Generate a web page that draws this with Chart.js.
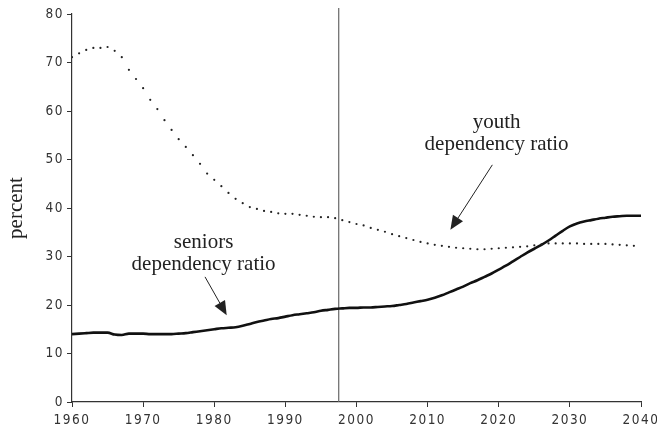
<!DOCTYPE html>
<html>
<head>
<meta charset="utf-8">
<script src="https://cdn.jsdelivr.net/npm/chart.js@4.4.1/dist/chart.umd.min.js"></script>
<style>
	html, body { margin: 0; padding: 0; background: #fff; }
	#wrap { width: 657px; height: 428px; }
</style>
</head>
<body>
<div id="wrap"><canvas id="myChart"></canvas></div>
<script>
"use strict";

// Years on the x axis
const years = [
	1960, 1961, 1962, 1963, 1964, 1965, 1966, 1967, 1968, 1969,
	1970, 1971, 1972, 1973, 1974, 1975, 1976, 1977, 1978, 1979,
	1980, 1981, 1982, 1983, 1984, 1985, 1986, 1987, 1988, 1989,
	1990, 1991, 1992, 1993, 1994, 1995, 1996, 1997, 1998, 1999,
	2000, 2001, 2002, 2003, 2004, 2005, 2006, 2007, 2008, 2009,
	2010, 2011, 2012, 2013, 2014, 2015, 2016, 2017, 2018, 2019,
	2020, 2021, 2022, 2023, 2024, 2025, 2026, 2027, 2028, 2029,
	2030, 2031, 2032, 2033, 2034, 2035, 2036, 2037, 2038, 2039,
	2040,
];

// Youth dependency ratio (percent), 1960-2039
const youthRatio = [
	71.1, 71.9, 72.6, 73.0, 73.0, 73.2, 72.4, 71.1, 68.5, 66.6,
	64.7, 62.3, 60.4, 58.1, 56.1, 54.2, 52.6, 50.9, 49.1, 47.1,
	45.8, 44.5, 43.1, 41.9, 41.0, 40.2, 39.8, 39.4, 39.2, 38.9,
	38.8, 38.8, 38.6, 38.4, 38.2, 38.1, 38.1, 37.9, 37.5, 37.1,
	36.7, 36.4, 35.9, 35.5, 35.1, 34.6, 34.2, 33.8, 33.4, 33.0,
	32.7, 32.4, 32.2, 32.0, 31.8, 31.7, 31.6, 31.5, 31.5, 31.6,
	31.7, 31.8, 31.9, 32.0, 32.1, 32.3, 32.5, 32.7, 32.7, 32.7,
	32.7, 32.7, 32.6, 32.6, 32.6, 32.6, 32.5, 32.4, 32.3, 32.2,
];

// Seniors dependency ratio (percent), 1960-2040
const seniorsRatio = [
	14.0, 14.1, 14.2, 14.3, 14.3, 14.3, 13.9, 13.8, 14.1, 14.1,
	14.1, 14.0, 14.0, 14.0, 14.0, 14.1, 14.2, 14.4, 14.6, 14.8,
	15.0, 15.2, 15.3, 15.4, 15.7, 16.1, 16.5, 16.8, 17.1, 17.3,
	17.6, 17.9, 18.1, 18.3, 18.5, 18.8, 19.0, 19.2, 19.3, 19.4,
	19.4, 19.5, 19.5, 19.6, 19.7, 19.8, 20.0, 20.2, 20.5, 20.8,
	21.1, 21.5, 22.0, 22.6, 23.2, 23.8, 24.5, 25.1, 25.8, 26.5,
	27.3, 28.1, 29.0, 29.9, 30.8, 31.6, 32.4, 33.3, 34.3, 35.3,
	36.2, 36.8, 37.2, 37.5, 37.8, 38.0, 38.2, 38.3, 38.4, 38.4,
	38.4,
];

// Year of the vertical divider line
const markerYear = 1997.5;

// Label texts and where they sit (year, percent of the first baseline)
const youthLabel = { lines: ["youth", "dependency ratio"], x: 2019.7, y: 56.5, arrowFrom: [2019.1, 48.9], arrowTo: [2013.2, 35.5] };
const seniorsLabel = { lines: ["seniors", "dependency ratio"], x: 1978.5, y: 31.8, arrowFrom: [1978.7, 25.8], arrowTo: [1981.75, 17.9] };
const yTitle = "percent";

const tickFont = { family: "'Liberation Sans Narrow', 'DejaVu Sans Condensed', sans-serif", size: 13.5 };
const serifFont = "21px 'Liberation Serif', 'DejaVu Serif', serif";

function toPoints(values) {
	const points = [];
	values.forEach(function (value, i) {
		points.push({ x: years[i], y: value });
	});
	return points;
}

function drawArrow(ctx, x1, y1, x2, y2) {
	const angle = Math.atan2(y2 - y1, x2 - x1);
	const headLen = 14;
	const headHalf = 6;
	const bx = x2 - headLen * Math.cos(angle);
	const by = y2 - headLen * Math.sin(angle);
	ctx.beginPath();
	ctx.moveTo(x1, y1);
	ctx.lineTo(bx, by);
	ctx.stroke();
	ctx.beginPath();
	ctx.moveTo(x2, y2);
	ctx.lineTo(bx + headHalf * Math.sin(angle), by - headHalf * Math.cos(angle));
	ctx.lineTo(bx - headHalf * Math.sin(angle), by + headHalf * Math.cos(angle));
	ctx.closePath();
	ctx.fill();
}

const annotations = {
	id: "annotations",
	beforeDraw(chart) {
		// spaced-out digits like the original tick labels
		chart.ctx.letterSpacing = "1.5px";
	},
	beforeDatasetsDraw(chart) {
		const ctx = chart.ctx;
		const x = chart.scales.x.getPixelForValue(markerYear);
		ctx.save();
		ctx.strokeStyle = "#666";
		ctx.lineWidth = 1.2;
		ctx.beginPath();
		ctx.moveTo(x, chart.chartArea.top - 6);
		ctx.lineTo(x, chart.chartArea.bottom);
		ctx.stroke();
		ctx.restore();
	},
	afterDraw(chart) {
		const ctx = chart.ctx;
		const xs = chart.scales.x;
		const ys = chart.scales.y;
		ctx.save();
		ctx.letterSpacing = "0px";
		ctx.font = serifFont;
		ctx.fillStyle = "#222";
		ctx.strokeStyle = "#222";
		ctx.lineWidth = 1;
		ctx.textAlign = "center";
		ctx.textBaseline = "alphabetic";
		[youthLabel, seniorsLabel].forEach(function (label) {
			const cx = xs.getPixelForValue(label.x);
			const cy = ys.getPixelForValue(label.y);
			label.lines.forEach(function (line, i) {
				ctx.fillText(line, cx, cy + i * 22);
			});
			drawArrow(ctx,
				xs.getPixelForValue(label.arrowFrom[0]), ys.getPixelForValue(label.arrowFrom[1]),
				xs.getPixelForValue(label.arrowTo[0]), ys.getPixelForValue(label.arrowTo[1]));
		});

		// y axis title
		ctx.translate(22, (chart.chartArea.top + chart.chartArea.bottom) / 2);
		ctx.rotate(-Math.PI / 2);
		ctx.fillText(yTitle, 0, 0);
		ctx.restore();
	},
};

function generateChart() {
	const ctx = document.getElementById("myChart");

	new Chart(ctx, {
		type: "line",
		data: {
			datasets: [
				{
					label: "youth dependency ratio",
					data: toPoints(youthRatio),
					showLine: false,
					pointRadius: 1.1,
					pointBorderWidth: 0,
					pointBackgroundColor: "#222",
				},
				{
					label: "seniors dependency ratio",
					data: toPoints(seniorsRatio),
					borderColor: "#111",
					borderWidth: 2.6,
					pointRadius: 0,
					cubicInterpolationMode: "monotone",
				},
			],
		},
		options: {
			responsive: true,
			maintainAspectRatio: false,
			animation: false,
			layout: { padding: { top: 14, right: 16, left: 0, bottom: 0 } },
			plugins: {
				legend: { display: false },
				tooltip: { enabled: false },
			},
			scales: {
				x: {
					type: "linear",
					min: 1960,
					max: 2040,
					afterFit: function (scale) {
						scale.height = 26;
						scale.paddingLeft = 0;
						scale.paddingRight = 0;
					},
					grid: { drawOnChartArea: false, tickLength: 5, color: "#333", lineWidth: 1 },
					border: { color: "#333", width: 1.2 },
					ticks: {
						stepSize: 10,
						padding: 5,
						color: "#333",
						font: tickFont,
						maxRotation: 0,
						callback: function (value) { return String(value); },
					},
				},
				y: {
					min: 0,
					max: 80,
					afterFit: function (scale) {
						scale.width = 72;
						scale.paddingTop = 0;
						scale.paddingBottom = 0;
					},
					grid: { drawOnChartArea: false, tickLength: 5, color: "#333", lineWidth: 1 },
					border: { color: "#333", width: 1.2 },
					ticks: {
						stepSize: 10,
						padding: 3,
						color: "#333",
						font: tickFont,
					},
				},
			},
		},
		plugins: [annotations],
	});
}

generateChart();
</script>
</body>
</html>
